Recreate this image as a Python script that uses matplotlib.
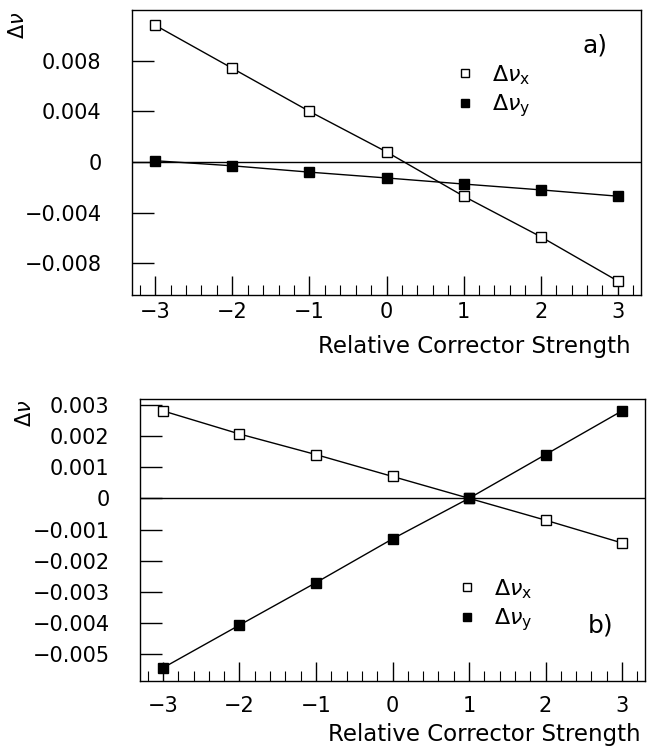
import matplotlib
matplotlib.use("Agg")
import matplotlib.pyplot as plt
from matplotlib.lines import Line2D
from matplotlib.ticker import MultipleLocator, FixedLocator, FixedFormatter

# ---- data ----
strength = [-3, -2, -1, 0, 1, 2, 3]

a_dnux = [0.0108, 0.0074, 0.0040, 0.0008, -0.0027, -0.0059, -0.0094]
a_dnuy = [0.0001, -0.0003, -0.0008, -0.00126, -0.00174, -0.0022, -0.0027]

b_dnux = [0.0028, 0.00206, 0.0014, 0.0007, 0.0, -0.0007, -0.00143]
b_dnuy = [-0.00543, -0.00406, -0.0027, -0.0013, 0.0, 0.0014, 0.0028]

x_ticks = [-3, -2, -1, 0, 1, 2, 3]
x_ticklabels = ["\u22123", "\u22122", "\u22121", "0", "1", "2", "3"]

a_yticks = [-0.008, -0.004, 0, 0.004, 0.008]
a_yticklabels = ["\u22120.008", "\u22120.004", "0", "0.004", "0.008"]

b_yticks = [-0.005, -0.004, -0.003, -0.002, -0.001, 0, 0.001, 0.002, 0.003]
b_yticklabels = ["\u22120.005", "\u22120.004", "\u22120.003", "\u22120.002",
                 "\u22120.001", "0", "0.001", "0.002", "0.003"]

x_label = "Relative Corrector Strength"
y_label = r"$\Delta\nu$"
leg_x = r"$\Delta\nu_{\rm x}$"
leg_y = r"$\Delta\nu_{\rm y}$"

plt.rcParams['font.family'] = ['DejaVu Sans']
plt.rcParams['mathtext.fontset'] = 'dejavusans'

fig = plt.figure(figsize=(6.48, 7.48), dpi=100)

W, H = 648, 748
def rect(l, t, r, b):
    return [l / W, 1 - b / H, (r - l) / W, (b - t) / H]

ax1 = fig.add_axes(rect(132, 10, 641, 295))
ax2 = fig.add_axes(rect(140, 399, 645, 681))

def style(ax, yticks, yticklabels, ylim, xpad):
    ax.set_xlim(-3.3, 3.3)
    ax.set_ylim(*ylim)
    ax.axhline(0, color='black', lw=1.0, zorder=1)
    for s in ax.spines.values():
        s.set_linewidth(1.0)
    ax.xaxis.set_major_locator(FixedLocator(x_ticks))
    ax.xaxis.set_major_formatter(FixedFormatter(x_ticklabels))
    ax.xaxis.set_minor_locator(MultipleLocator(0.2))
    ax.yaxis.set_major_locator(FixedLocator(yticks))
    ax.yaxis.set_major_formatter(FixedFormatter(yticklabels))
    ax.tick_params(axis='x', which='major', direction='in', length=14, width=1.0,
                   labelsize=15, pad=xpad, top=False)
    ax.tick_params(axis='x', which='minor', direction='in', length=7, width=0.8, top=False)
    ax.tick_params(axis='y', which='major', direction='in', length=16, width=1.0,
                   labelsize=15, pad=22, right=False)
    ax.tick_params(axis='y', which='minor', left=False, right=False)

def plot_series(ax, xv, yv, filled):
    ax.plot(xv, yv, color='black', lw=1.0, marker='s', markersize=7,
            markerfacecolor='black' if filled else 'white',
            markeredgecolor='black', markeredgewidth=1.0, zorder=3)

# ---- panel a ----
style(ax1, a_yticks, a_yticklabels, (-0.0105, 0.012), 5)
plot_series(ax1, strength, a_dnux, False)
plot_series(ax1, strength, a_dnuy, True)

# ---- panel b ----
style(ax2, b_yticks, b_yticklabels, (-0.00585, 0.00318), 11)
plot_series(ax2, strength, b_dnux, False)
plot_series(ax2, strength, b_dnuy, True)

handles = [Line2D([], [], ls='none', marker='s', markersize=6, markerfacecolor='white',
                  markeredgecolor='black'),
           Line2D([], [], ls='none', marker='s', markersize=6, markerfacecolor='black',
                  markeredgecolor='black')]

def px(ax, x, y):
    # convert figure pixel position to axes fraction
    inv = ax.transAxes.inverted()
    return inv.transform(fig.transFigure.transform((x / W, 1 - y / H)))

for ax, pos, lab, labpos in [(ax1, (456, 63), "a)", (595, 46)),
                             (ax2, (458, 577), "b)", (601, 626))]:
    lx, ly = px(ax, *pos)
    ax.legend(handles, [leg_x, leg_y], loc='upper left', bbox_to_anchor=(lx, ly),
              frameon=False, fontsize=16, handlelength=0.8, handletextpad=0.8,
              labelspacing=0.25, borderpad=0, borderaxespad=0)
    tx, ty = px(ax, *labpos)
    ax.text(tx, ty, lab, transform=ax.transAxes, fontsize=18, ha='center', va='center')

# axis labels
fig.text(18 / W, 1 - 25 / H, y_label, rotation=90, fontsize=15, ha='center', va='center')
fig.text(25 / W, 1 - 413 / H, y_label, rotation=90, fontsize=15, ha='center', va='center')
fig.text(631 / W, 1 - 347 / H, x_label, fontsize=16.5, ha='right', va='center')
fig.text(641 / W, 1 - 735 / H, x_label, fontsize=16.5, ha='right', va='center')

fig.savefig("out.png", dpi=100)
